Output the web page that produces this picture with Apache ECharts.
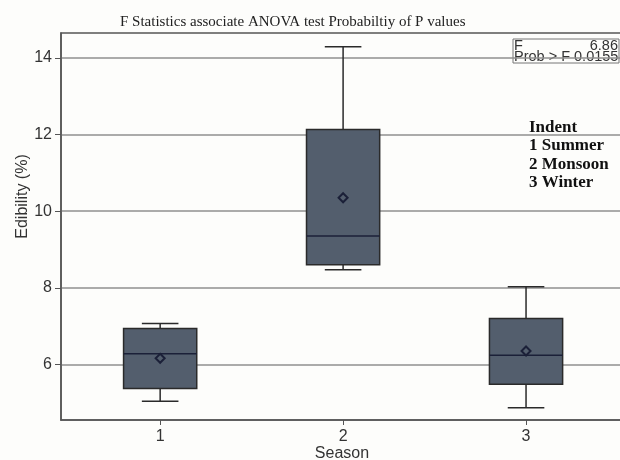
<!DOCTYPE html>
<html>
<head>
<meta charset="utf-8">
<script src="https://cdn.jsdelivr.net/npm/echarts@6/dist/echarts.min.js"></script>
<style>
  html, body { margin: 0; padding: 0; background: #fdfdfb; }
  #chart { width: 620px; height: 460px; }
</style>
</head>
<body>
<div id="chart"></div>
<script>
// season boxplot values (Edibility %)
const seasons = [1, 2, 3];
const whiskerLow = [5.04, 8.47, 4.87];
const q1 = [5.37, 8.6, 5.48];
const median = [6.28, 9.35, 6.24];
const q3 = [6.94, 12.13, 7.2];
const whiskerHigh = [7.07, 14.29, 8.03];
const means = [6.16, 10.35, 6.35];

const yTicks = [6, 8, 10, 12, 14];
const xTicks = [1, 2, 3];

const chart = echarts.init(document.getElementById('chart'));

const boxData = seasons.map((s, i) => [s, whiskerLow[i], q1[i], median[i], q3[i], whiskerHigh[i], means[i]]);

function renderBox(params, api) {
  const x = api.value(0);
  const pLow = api.coord([x, api.value(1)]);
  const pQ1 = api.coord([x, api.value(2)]);
  const pMed = api.coord([x, api.value(3)]);
  const pQ3 = api.coord([x, api.value(4)]);
  const pHigh = api.coord([x, api.value(5)]);
  const pMean = api.coord([x, api.value(6)]);
  const w = api.size([0.4, 0])[0];
  const cap = w / 2;
  const cx = pMed[0];
  const lineStyle = { stroke: '#2a2a2a', lineWidth: 1.5 };
  const d = 4.5;
  return {
    type: 'group',
    children: [
      { type: 'line', shape: { x1: cx, y1: pHigh[1], x2: cx, y2: pQ3[1] }, style: lineStyle },
      { type: 'line', shape: { x1: cx - cap / 2, y1: pHigh[1], x2: cx + cap / 2, y2: pHigh[1] }, style: lineStyle },
      { type: 'line', shape: { x1: cx, y1: pQ1[1], x2: cx, y2: pLow[1] }, style: lineStyle },
      { type: 'line', shape: { x1: cx - cap / 2, y1: pLow[1], x2: cx + cap / 2, y2: pLow[1] }, style: lineStyle },
      {
        type: 'rect',
        shape: { x: cx - w / 2, y: pQ3[1], width: w, height: pQ1[1] - pQ3[1] },
        style: { fill: '#535e6d', stroke: '#2a2a2a', lineWidth: 1.5 }
      },
      { type: 'line', shape: { x1: cx - w / 2, y1: pMed[1], x2: cx + w / 2, y2: pMed[1] }, style: { stroke: '#1b2038', lineWidth: 1.5 } },
      {
        type: 'polygon',
        shape: { points: [[cx, pMean[1] - d], [cx + d, pMean[1]], [cx, pMean[1] + d], [cx - d, pMean[1]]] },
        style: { fill: 'none', stroke: '#1b2038', lineWidth: 2 }
      }
    ]
  };
}

const option = {
  backgroundColor: '#fdfdfb',
  animation: false,
  title: {
    text: 'F Statistics associate ANOVA test Probabiltiy of P values',
    left: 115,
    top: 10,
    textStyle: { fontFamily: 'Liberation Serif', fontWeight: 'normal', fontSize: 15, color: '#222' }
  },
  grid: {
    left: 61, right: -3, top: 33, bottom: 40,
    outerBoundsMode: 'none',
    containLabel: false,
    show: true, borderColor: '#555', borderWidth: 1.5
  },
  xAxis: {
    type: 'value',
    min: 0.458,
    max: 3.53,
    name: 'Season',
    nameLocation: 'middle',
    nameGap: 26,
    nameMoveOverlap: false,
    nameTextStyle: { fontFamily: 'Liberation Sans', fontSize: 16, color: '#333' },
    axisLine: { show: true, lineStyle: { color: '#555', width: 1.5 } },
    axisTick: { show: true, length: 5, customValues: xTicks, lineStyle: { color: '#555' } },
    axisLabel: { customValues: xTicks, margin: 9, fontFamily: 'Liberation Sans', fontSize: 16, color: '#333' },
    splitLine: { show: false }
  },
  yAxis: {
    type: 'value',
    min: 4.55,
    max: 14.65,
    name: 'Edibility (%)',
    nameLocation: 'middle',
    nameGap: 30,
    nameMoveOverlap: false,
    nameTextStyle: { fontFamily: 'Liberation Sans', fontSize: 16, color: '#333', padding: [0, 0, 0, 60] },
    axisLine: { show: true, lineStyle: { color: '#555', width: 1.5 } },
    axisTick: { show: true, length: 6, customValues: yTicks, lineStyle: { color: '#555' } },
    axisLabel: { customValues: yTicks, margin: 9, fontFamily: 'Liberation Sans', fontSize: 16, color: '#333' },
    splitLine: { show: true, lineStyle: { color: '#8f8f8f', width: 1.5 } }
  },
  graphic: [
    {
      type: 'rect',
      shape: { x: 513, y: 39, width: 106, height: 24 },
      style: { fill: '#fdfdfb', stroke: '#777', lineWidth: 1 }
    },
    { type: 'text', style: { x: 514, y: 45.5, text: 'F', font: "14.5px 'Liberation Sans'", fill: '#333', verticalAlign: 'middle' } },
    { type: 'text', style: { x: 618, y: 45.5, text: '6.86', font: "14.5px 'Liberation Sans'", fill: '#333', align: 'right', verticalAlign: 'middle' } },
    { type: 'text', style: { x: 514, y: 57, text: 'Prob > F 0.0155', font: "14.5px 'Liberation Sans'", fill: '#333', verticalAlign: 'middle' } },
    {
      type: 'text',
      style: {
        x: 529, y: 118,
        text: 'Indent\n1 Summer\n2 Monsoon\n3 Winter',
        font: "bold 17px 'Liberation Serif'", lineHeight: 18.5, fill: '#111'
      }
    }
  ],
  series: [
    {
      type: 'custom',
      renderItem: renderBox,
      encode: { x: 0, y: [1, 2, 3, 4, 5, 6] },
      data: boxData,
      z: 3
    }
  ]
};

chart.setOption(option);
</script>
</body>
</html>
